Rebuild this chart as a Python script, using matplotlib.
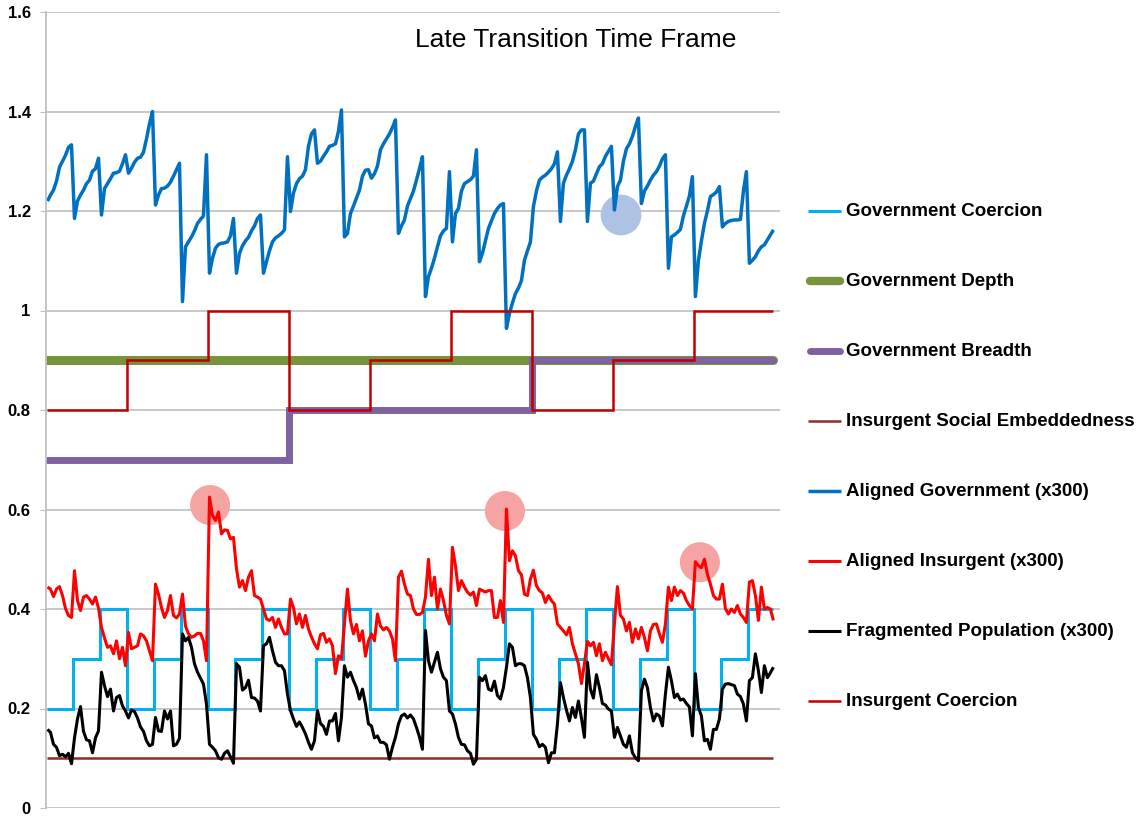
import numpy as np
import matplotlib
matplotlib.use("Agg")
import matplotlib.pyplot as plt
from matplotlib.lines import Line2D

plt.rcParams['font.family'] = ['Liberation Sans', 'DejaVu Sans']

# ---------------------------------------------------------------- data
# Policy levels held constant over phases of the run
gov_coercion_phases = [0.2, 0.3, 0.4, 0.2, 0.3, 0.4, 0.2, 0.3, 0.4,
                       0.2, 0.3, 0.4, 0.2, 0.3, 0.4, 0.2, 0.3, 0.4,
                       0.2, 0.3, 0.4, 0.2, 0.3, 0.4, 0.2, 0.3, 0.4]
gov_coercion_phase_len = 9
insurgent_coercion_phases = [0.8, 0.9, 1.0, 0.8, 0.9, 1.0, 0.8, 0.9, 1.0]
insurgent_coercion_phase_len = 27
gov_breadth_phases = [0.7, 0.8, 0.9]
gov_breadth_phase_len = 81
gov_depth_level = 0.9
social_embeddedness_level = 0.1

# Population shares (scaled x300), one value per time step
aligned_gov = [
    1.22, 1.232, 1.242, 1.26, 1.288, 1.30, 1.312, 1.328, 1.333,
    1.185, 1.22, 1.232, 1.242, 1.255, 1.262, 1.28, 1.285, 1.306,
    1.192, 1.245, 1.255, 1.265, 1.276, 1.277, 1.28, 1.295, 1.313,
    1.276, 1.286, 1.298, 1.306, 1.308, 1.318, 1.345, 1.375, 1.40,
    1.212, 1.232, 1.245, 1.246, 1.25, 1.258, 1.27, 1.283, 1.296,
    1.018, 1.128, 1.138, 1.148, 1.16, 1.175, 1.183, 1.19, 1.313,
    1.075, 1.105, 1.125, 1.133, 1.135, 1.136, 1.138, 1.15, 1.185,
    1.075, 1.115, 1.13, 1.14, 1.147, 1.16, 1.17, 1.185, 1.192,
    1.075, 1.098, 1.12, 1.138, 1.146, 1.15, 1.155, 1.162, 1.309,
    1.199, 1.236, 1.255, 1.265, 1.27, 1.283, 1.33, 1.355, 1.363,
    1.296, 1.30, 1.31, 1.319, 1.33, 1.332, 1.335, 1.36, 1.403,
    1.148, 1.155, 1.195, 1.21, 1.226, 1.242, 1.27, 1.282, 1.283,
    1.266, 1.275, 1.29, 1.323, 1.335, 1.345, 1.355, 1.368, 1.383,
    1.155, 1.17, 1.182, 1.21, 1.225, 1.24, 1.262, 1.285, 1.309,
    1.028, 1.068, 1.085, 1.105, 1.128, 1.15, 1.16, 1.165, 1.279,
    1.138, 1.195, 1.205, 1.24, 1.255, 1.259, 1.263, 1.27, 1.323,
    1.098, 1.115, 1.14, 1.165, 1.18, 1.195, 1.205, 1.212, 1.215,
    0.964, 0.994, 1.015, 1.034, 1.045, 1.06, 1.101, 1.12, 1.138,
    1.209, 1.24, 1.262, 1.268, 1.272, 1.278, 1.285, 1.295, 1.319,
    1.179, 1.256, 1.272, 1.285, 1.30, 1.323, 1.355, 1.363, 1.363,
    1.179, 1.256, 1.26, 1.275, 1.289, 1.295, 1.31, 1.32, 1.33,
    1.202, 1.249, 1.262, 1.30, 1.325, 1.335, 1.35, 1.37, 1.387,
    1.215, 1.24, 1.25, 1.262, 1.272, 1.279, 1.29, 1.305, 1.313,
    1.085, 1.148, 1.152, 1.157, 1.163, 1.19, 1.21, 1.23, 1.269,
    1.028, 1.10, 1.14, 1.175, 1.20, 1.229, 1.233, 1.238, 1.249,
    1.168, 1.175, 1.179, 1.181, 1.182, 1.182, 1.183, 1.24, 1.279,
    1.095, 1.101, 1.108, 1.12, 1.128, 1.132, 1.142, 1.152, 1.162,
]

aligned_insurgent = [
    0.444, 0.44, 0.425, 0.44, 0.445, 0.427, 0.401, 0.387, 0.383,
    0.477, 0.417, 0.397, 0.424, 0.427, 0.42, 0.41, 0.424, 0.402,
    0.363, 0.342, 0.323, 0.326, 0.31, 0.336, 0.30, 0.323, 0.286,
    0.353, 0.32, 0.323, 0.326, 0.35, 0.346, 0.336, 0.316, 0.296,
    0.45, 0.43, 0.403, 0.383, 0.397, 0.427, 0.387, 0.382, 0.39,
    0.43, 0.366, 0.35, 0.343, 0.346, 0.351, 0.351, 0.336, 0.296,
    0.625, 0.588, 0.578, 0.595, 0.551, 0.559, 0.558, 0.541, 0.544,
    0.481, 0.444, 0.457, 0.437, 0.464, 0.477, 0.427, 0.424, 0.42,
    0.40, 0.38, 0.377, 0.383, 0.363, 0.38, 0.363, 0.35, 0.35,
    0.42, 0.403, 0.37, 0.39, 0.363, 0.387, 0.36, 0.344, 0.33,
    0.32, 0.348, 0.351, 0.333, 0.34, 0.326, 0.27, 0.306, 0.30,
    0.37, 0.44, 0.377, 0.35, 0.369, 0.336, 0.356, 0.305, 0.336,
    0.35, 0.336, 0.39, 0.366, 0.358, 0.363, 0.356, 0.34, 0.296,
    0.464, 0.476, 0.45, 0.43, 0.427, 0.40, 0.389, 0.389, 0.393,
    0.424, 0.50, 0.427, 0.464, 0.40, 0.44, 0.417, 0.387, 0.37,
    0.524, 0.487, 0.437, 0.457, 0.444, 0.434, 0.428, 0.434, 0.407,
    0.44, 0.437, 0.434, 0.437, 0.437, 0.383, 0.383, 0.417, 0.373,
    0.601, 0.497, 0.517, 0.507, 0.477, 0.469, 0.43, 0.427, 0.46,
    0.478, 0.447, 0.437, 0.432, 0.413, 0.427, 0.417, 0.41, 0.37,
    0.363, 0.356, 0.348, 0.363, 0.33, 0.31, 0.29, 0.25, 0.29,
    0.335, 0.326, 0.333, 0.306, 0.33, 0.296, 0.313, 0.30, 0.288,
    0.37, 0.445, 0.387, 0.38, 0.356, 0.373, 0.333, 0.36, 0.34,
    0.363, 0.343, 0.316, 0.356, 0.369, 0.37, 0.35, 0.333, 0.37,
    0.444, 0.417, 0.444, 0.427, 0.437, 0.432, 0.417, 0.407, 0.40,
    0.495, 0.487, 0.483, 0.50, 0.47, 0.45, 0.427, 0.42, 0.42,
    0.45, 0.401, 0.39, 0.40, 0.393, 0.407, 0.39, 0.383, 0.373,
    0.454, 0.457, 0.427, 0.377, 0.444, 0.40, 0.403, 0.40, 0.377,
]

fragmented_pop = [
    0.158, 0.152, 0.128, 0.122, 0.105, 0.108, 0.103, 0.11, 0.089,
    0.141, 0.179, 0.204, 0.154, 0.137, 0.135, 0.111, 0.141, 0.155,
    0.273, 0.246, 0.224, 0.239, 0.195, 0.222, 0.226, 0.205, 0.195,
    0.181, 0.197, 0.194, 0.181, 0.163, 0.154, 0.135, 0.125, 0.128,
    0.182, 0.155, 0.154, 0.195, 0.179, 0.195, 0.125, 0.128, 0.14,
    0.35, 0.336, 0.343, 0.323, 0.29, 0.273, 0.261, 0.249, 0.209,
    0.128, 0.122, 0.115, 0.101, 0.098, 0.11, 0.115, 0.103, 0.09,
    0.29, 0.283, 0.237, 0.242, 0.257, 0.222, 0.221, 0.215, 0.195,
    0.326, 0.33, 0.343, 0.316, 0.293, 0.286, 0.286, 0.276, 0.229,
    0.196, 0.179, 0.164, 0.173, 0.162, 0.149, 0.132, 0.118, 0.135,
    0.196, 0.17, 0.164, 0.148, 0.175, 0.175, 0.19, 0.135, 0.182,
    0.286, 0.263, 0.273, 0.256, 0.242, 0.219, 0.239, 0.209, 0.169,
    0.165, 0.141, 0.145, 0.132, 0.132, 0.127, 0.098, 0.122, 0.142,
    0.169, 0.185, 0.189, 0.181, 0.187, 0.179, 0.162, 0.143, 0.118,
    0.357, 0.296, 0.273, 0.293, 0.313, 0.28, 0.263, 0.256, 0.195,
    0.189, 0.169, 0.142, 0.128, 0.127, 0.115, 0.11, 0.088, 0.098,
    0.263, 0.256, 0.266, 0.239, 0.236, 0.255, 0.226, 0.219, 0.242,
    0.283, 0.33, 0.323, 0.286, 0.29, 0.29, 0.286, 0.262, 0.222,
    0.148, 0.138, 0.123, 0.128, 0.122, 0.091, 0.111, 0.111, 0.169,
    0.252, 0.222, 0.197, 0.175, 0.202, 0.182, 0.215, 0.181, 0.142,
    0.293, 0.239, 0.221, 0.268, 0.242, 0.21, 0.207, 0.199, 0.195,
    0.142, 0.162, 0.145, 0.128, 0.122, 0.145, 0.111, 0.101, 0.095,
    0.236, 0.259, 0.242, 0.202, 0.175, 0.189, 0.185, 0.165, 0.229,
    0.283, 0.256, 0.222, 0.229, 0.217, 0.219, 0.21, 0.203, 0.145,
    0.27, 0.202, 0.185, 0.135, 0.138, 0.118, 0.158, 0.158, 0.179,
    0.239, 0.249, 0.25, 0.248, 0.246, 0.229, 0.224, 0.209, 0.175,
    0.256, 0.262, 0.31, 0.276, 0.232, 0.286, 0.262, 0.272, 0.283,
]

# Highlighted moments (time step, level)
insurgent_peaks_t = [54.2, 152.5, 217.5]
insurgent_peaks_v = [0.609, 0.597, 0.494]
gov_dip_t = [191.2]
gov_dip_v = [1.192]

y_ticks = [0, 0.2, 0.4, 0.6, 0.8, 1.0, 1.2, 1.4, 1.6]
y_tick_labels = ['0', '0.2', '0.4', '0.6', '0.8', '1', '1.2', '1.4', '1.6']
title = 'Late Transition Time Frame'

# ---------------------------------------------------------------- series
n = len(aligned_gov)
t = np.arange(n)
gov_coercion = np.repeat(gov_coercion_phases, gov_coercion_phase_len)[:n]
insurgent_coercion = np.repeat(insurgent_coercion_phases, insurgent_coercion_phase_len)[:n]
gov_breadth = np.repeat(gov_breadth_phases, gov_breadth_phase_len)[:n]
gov_depth = np.full(n, gov_depth_level)
social_emb = np.full(n, social_embeddedness_level)

series = [
    # label, values, colour, width, step?, capstyle
    ('Government Coercion', gov_coercion, '#00B0F0', 2.2, True, 'butt'),
    ('Government Depth', gov_depth, '#77933C', 6.5, False, 'round'),
    ('Government Breadth', gov_breadth, '#7F63A1', 5.0, True, 'round'),
    ('Insurgent Social Embeddedness', social_emb, '#8E2B2B', 1.8, False, 'butt'),
    ('Aligned Government (x300)', aligned_gov, '#0070C0', 2.5, False, 'butt'),
    ('Aligned Insurgent (x300)', aligned_insurgent, '#FF0000', 2.2, False, 'butt'),
    ('Fragmented Population (x300)', fragmented_pop, '#000000', 2.2, False, 'butt'),
    ('Insurgent Coercion', insurgent_coercion, '#C00000', 1.8, True, 'butt'),
]

# ---------------------------------------------------------------- figure
W, H = 1141, 816
fig = plt.figure(figsize=(W / 100, H / 100), dpi=100)
ax = fig.add_axes([46 / W, 1 - 808 / H, (780 - 46) / W, (808 - 12) / H])

ax.set_xlim(-0.5, 244.2)
ax.set_ylim(0, 1.6)
ax.set_yticks(y_ticks)
ax.set_yticklabels(y_tick_labels, fontsize=12, fontweight='bold')
ax.set_xticks([])
ax.tick_params(axis='y', length=4, color='#BFBFBF', pad=7)
ax.yaxis.grid(True, color='#C4C4C4', linewidth=1.3)
ax.set_axisbelow(True)
for side in ('top', 'right', 'bottom'):
    ax.spines[side].set_visible(False)
ax.spines['left'].set_color('#BFBFBF')
ax.spines['left'].set_linewidth(1.3)

# highlight discs sit under the lines
ax.scatter(insurgent_peaks_t, insurgent_peaks_v, s=830, color='#F6A3A3',
           edgecolors='none', zorder=1.5)
ax.scatter(gov_dip_t, gov_dip_v, s=860, color='#AEC3E3',
           edgecolors='none', zorder=1.5)

for k, (label, vals, col, lw, step, cap) in enumerate(series):
    ax.plot(t, vals, color=col, linewidth=lw,
            drawstyle='steps-mid' if step else 'default',
            solid_capstyle=cap, solid_joinstyle='miter' if step else 'round',
            zorder=2 + k * 0.1)

ax.text(0.722, 0.965, title, transform=ax.transAxes, ha='center', va='center',
        fontsize=19)

# legend column on the right
for k, (label, vals, col, lw, step, cap) in enumerate(series):
    y = 1 - (211 + 70 * k) / H
    x0, x1 = (808, 841) if cap == 'butt' else (810, 840)
    fig.add_artist(Line2D([x0 / W, x1 / W], [y, y], transform=fig.transFigure,
                          color=col, linewidth=min(lw, 6.0),
                          solid_capstyle=cap))
    fig.text(846 / W, y, label, ha='left', va='center', fontsize=13.5,
             fontweight='bold')

fig.savefig('out.png', dpi=100)
